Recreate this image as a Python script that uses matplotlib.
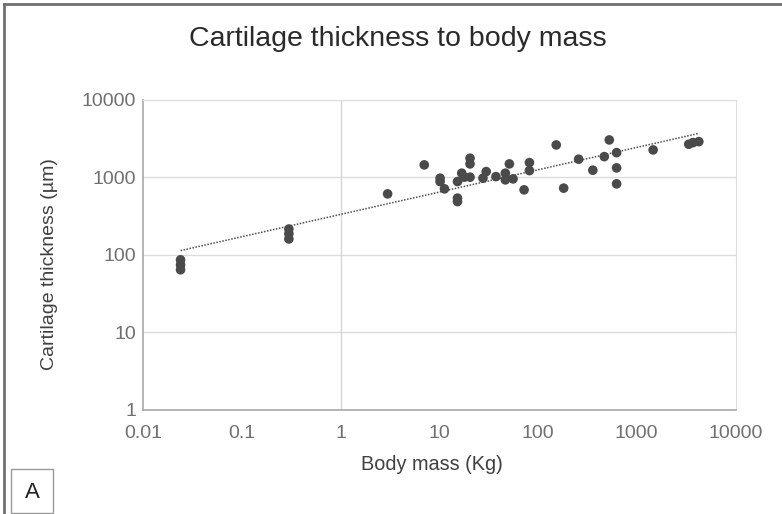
"""Scatter of cartilage thickness against body mass, log-log, with power trendline."""

import numpy as np
import matplotlib
matplotlib.use('Agg')
import matplotlib.pyplot as plt
from matplotlib.patches import Rectangle
from matplotlib.lines import Line2D

plt.rcParams['font.family'] = ['Liberation Sans', 'DejaVu Sans']

TITLE = 'Cartilage thickness to body mass'
X_LABEL = 'Body mass (Kg)'
Y_LABEL = 'Cartilage thickness (µm)'

body_mass = [0.024, 0.024, 0.024, 0.30, 0.30, 0.30, 3.0, 7.05,
             10.2, 10.2, 11.3, 15.3, 15.3, 15.3, 16.9, 17.9,
             20.5, 20.5, 20.5, 27.7, 29.9, 37.5, 46.7, 46.7,
             51.3, 55.9, 72.3, 81.9, 81.9, 153, 182, 258,
             359, 469, 527, 625, 625, 625, 1466, 3360, 3715, 4250]
thickness = [86, 74, 64, 215, 187, 160, 612, 1450,
             977, 883, 711, 883, 539, 487, 1133, 1006,
             1770, 1493, 1006, 977, 1188, 1023, 1133, 929,
             1493, 957, 690, 1552, 1224, 2625, 726, 1718,
             1238, 1855, 3047, 2089, 1327, 825, 2264, 2680, 2812, 2897]

x_ticks = [0.01, 0.1, 1, 10, 100, 1000, 10000]
x_tick_labels = ['0.01', '0.1', '1', '10', '100', '1000', '10000']
y_ticks = [1, 10, 100, 1000, 10000]
y_tick_labels = ['1', '10', '100', '1000', '10000']


def _power_fit(x, y):
    """Excel style power trendline: straight line in log-log space."""
    slope, intercept = np.polyfit(np.log10(x), np.log10(y), 1)
    xs = np.logspace(np.log10(min(x)), np.log10(max(x)), 50)
    return xs, 10 ** (intercept + slope * np.log10(xs))


W, H = 782, 514
fig = plt.figure(figsize=(W / 100, H / 100), dpi=100)
ax = fig.add_axes([143 / W, 1 - 409.5 / H, (735.5 - 143) / W, (409.5 - 100) / H])

ax.set_xscale('log')
ax.set_yscale('log')
ax.set_xlim(0.01, 10000)
ax.set_ylim(1, 10000)

# only horizontal gridlines plus the line at x=1
for yv in y_ticks[1:]:
    ax.axhline(yv, color='#dcdcdc', lw=1.0, zorder=0)
ax.axvline(1, color='#d6d6d6', lw=1.0, zorder=0)

ax.scatter(body_mass, thickness, s=48, color='#4a4a4a', edgecolors='none', zorder=3)

fx, fy = _power_fit(body_mass, thickness)
ax.plot(fx, fy, color='#505050', lw=1.1, ls=(0, (1, 1.0)), zorder=2)

ax.set_xticks(x_ticks)
ax.set_xticklabels(x_tick_labels)
ax.set_yticks(y_ticks)
ax.set_yticklabels(y_tick_labels)
ax.minorticks_off()
ax.tick_params(length=0, labelsize=14, labelcolor='#707070')
ax.tick_params(axis='x', pad=11)
ax.tick_params(axis='y', pad=5)

for side in ['left', 'bottom']:
    ax.spines[side].set_color('#a8a8a8')
    ax.spines[side].set_linewidth(1.2)
ax.spines['right'].set_color('#dedede')
ax.spines['top'].set_color('#dedede')

fig.text(398 / W, 1 - 39 / H, TITLE, ha='center', va='center',
         fontsize=20.5, color='#2a2a2a')
fig.text(432 / W, 1 - 465 / H, X_LABEL, ha='center', va='center',
         fontsize=14.3, color='#404040')
fig.text(50 / W, 1 - 264 / H, Y_LABEL, ha='center', va='center',
         rotation=90, fontsize=14, color='#404040')

# panel letter box
fig.patches.append(Rectangle((11 / W, 1 - 513 / H), 42 / W, 44 / H,
                             transform=fig.transFigure, fill=False,
                             edgecolor='#9a9a9a', lw=1.0))
fig.text(32 / W, 1 - 493 / H, 'A', ha='center', va='center',
         fontsize=16, color='#222222')

# outer frame, top and left edges
fig.lines.append(Line2D([4 / W, 1], [1 - 4 / H, 1 - 4 / H], transform=fig.transFigure,
                        color='#707070', lw=2.0))
fig.lines.append(Line2D([4 / W, 4 / W], [0, 1 - 4 / H], transform=fig.transFigure,
                        color='#707070', lw=2.0))

fig.savefig('out.png', dpi=100)
